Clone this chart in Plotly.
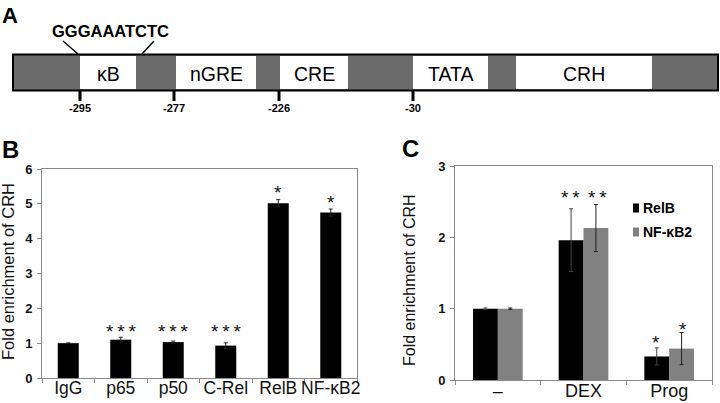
import plotly.graph_objects as go

# ---------------- data ----------------
# Panel B
b_categories = ["IgG", "p65", "p50", "C-Rel", "RelB", "NF-κB2"]
b_values = [1.0, 1.10, 1.03, 0.93, 5.02, 4.75]
b_errors = [0.01, 0.07, 0.03, 0.08, 0.10, 0.10]
b_sig = ["", "*\u2009*\u2009*", "*\u2009*\u2009*", "*\u2009*\u2009*", "*", "*"]
b_sig_y = [None, 1.34, 1.34, 1.34, 5.33, 5.04]

# Panel C
c_categories = ["–", "DEX", "Prog"]
c_relb = [1.0, 1.96, 0.33]
c_relb_err = [0.01, 0.44, 0.12]
c_nfkb2 = [1.0, 2.13, 0.44]
c_nfkb2_err = [0.01, 0.33, 0.225]
c_sig_relb = ["", "*\u2009*", "*"]
c_sig_relb_y = [None, 2.56, 0.53]
c_sig_nfkb2 = ["", "*\u2009*", "*"]
c_sig_nfkb2_y = [None, 2.56, 0.71]
c_series_names = ["RelB", "NF-κB2"]

# Panel A (promoter schematic)
promoter_elements = ["κB", "nGRE", "CRE", "TATA", "CRH"]
promoter_positions = ["-295", "-277", "-226", "-30"]
kb_sequence = "GGGAAATCTC"

# ---------------- layout helpers (pixel geometry) ----------------
W, H = 720, 403
FONT = "Liberation Sans, Arial, Helvetica, sans-serif"


def px(x):
    return x / W


def py(y):
    return 1 - y / H


# schematic geometry (pixels)
bar_x0, bar_x1, bar_y0, bar_y1 = 13, 718, 54.5, 90.5
element_spans = [(80, 136), (176, 256), (280, 348), (413, 488), (516, 652)]
position_marks_x = [80, 174, 279, 413]

BLACK = "#000000"
GREY = "#818181"
AXIS = "#8a8a8a"
STAR_SIZE = 19

fig = go.Figure()

# Panel B bars
fig.add_trace(go.Bar(
    x=b_categories, y=b_values,
    error_y=dict(type="data", array=b_errors, color="#222222", thickness=1, width=2),
    marker=dict(color=BLACK, line=dict(width=0)),
    width=0.4, offset=-0.2,
    xaxis="x", yaxis="y", showlegend=False,
))

# Panel C bars
fig.add_trace(go.Bar(
    x=c_categories, y=c_relb, name=c_series_names[0],
    error_y=dict(type="data", array=c_relb_err, color="#444444", thickness=1, width=2),
    marker=dict(color=BLACK, line=dict(width=0)),
    width=0.29, offset=-0.29,
    xaxis="x2", yaxis="y2", showlegend=False,
))
fig.add_trace(go.Bar(
    x=c_categories, y=c_nfkb2, name=c_series_names[1],
    error_y=dict(type="data", array=c_nfkb2_err, color="#222222", thickness=1, width=2),
    marker=dict(color=GREY, line=dict(width=0)),
    width=0.29, offset=0.0,
    xaxis="x2", yaxis="y2", showlegend=False,
))

annotations = []
shapes = []


def ann(**kw):
    kw.setdefault("showarrow", False)
    kw.setdefault("xanchor", "center")
    kw.setdefault("yanchor", "middle")
    annotations.append(kw)


# significance marks B
for cat, s, yv in zip(b_categories, b_sig, b_sig_y):
    if s:
        ann(x=cat, y=yv, xref="x", yref="y", text=s,
            font=dict(family=FONT, size=STAR_SIZE, color="#111"))
# significance marks C
for cat, s, yv in zip(c_categories, c_sig_relb, c_sig_relb_y):
    if s:
        ann(x=cat, y=yv, xref="x2", yref="y2", text=s, xshift=-13.5,
            font=dict(family=FONT, size=STAR_SIZE, color="#111"))
for cat, s, yv in zip(c_categories, c_sig_nfkb2, c_sig_nfkb2_y):
    if s:
        ann(x=cat, y=yv, xref="x2", yref="y2", text=s, xshift=13.5,
            font=dict(family=FONT, size=STAR_SIZE, color="#111"))

# y titles
ann(x=px(8), y=py(272), xref="paper", yref="paper", text="Fold enrichment of CRH",
    textangle=-90, font=dict(family=FONT, size=16.5, color="#111"))
ann(x=px(409), y=py(280), xref="paper", yref="paper", text="Fold enrichment of CRH",
    textangle=-90, font=dict(family=FONT, size=16, color="#111"))

# panel letters
for letter, (lx, ly), sz in [("A", (10, 15), 22), ("B", (10, 149), 24), ("C", (410, 148), 24)]:
    ann(x=px(lx), y=py(ly), xref="paper", yref="paper", text=letter,
        font=dict(family=FONT, size=sz, color="#000", weight="bold"))

# legend for C
legend_rows = [(c_series_names[0], BLACK, 208), (c_series_names[1], GREY, 232)]
for name, col, ly in legend_rows:
    shapes.append(dict(type="rect", xref="paper", yref="paper", x0=px(633), x1=px(639),
                       y0=py(ly + 4.5), y1=py(ly - 4.5), fillcolor=col, line=dict(width=0)))
    ann(x=px(641), y=py(ly), xref="paper", yref="paper", text=name, xanchor="left",
        font=dict(family=FONT, size=14, color="#000", weight="bold"))

# ---------------- Panel A schematic ----------------
shapes.append(dict(type="rect", xref="paper", yref="paper", x0=px(bar_x0), x1=px(bar_x1),
                   y0=py(bar_y1), y1=py(bar_y0), fillcolor="#6b6b6b", line=dict(color="#000", width=2)))
for name, (x0, x1) in zip(promoter_elements, element_spans):
    shapes.append(dict(type="rect", xref="paper", yref="paper", x0=px(x0), x1=px(x1),
                       y0=py(89), y1=py(56), fillcolor="#ffffff", line=dict(width=0)))
    ann(x=px((x0 + x1) / 2), y=py(74), xref="paper", yref="paper", text=name,
        font=dict(family=FONT, size=19.5, color="#000"))
for lab, mx in zip(promoter_positions, position_marks_x):
    shapes.append(dict(type="line", xref="paper", yref="paper", x0=px(mx), x1=px(mx),
                       y0=py(91), y1=py(101), line=dict(color="#000", width=3)))
    ann(x=px(mx), y=py(108), xref="paper", yref="paper", text=lab,
        font=dict(family=FONT, size=11, color="#000", weight="bold"))
# sequence callout
shapes.append(dict(type="line", xref="paper", yref="paper", x0=px(63), y0=py(41), x1=px(78), y1=py(54),
                   line=dict(color="#000", width=1.5)))
shapes.append(dict(type="line", xref="paper", yref="paper", x0=px(154), y0=py(41), x1=px(142), y1=py(54),
                   line=dict(color="#000", width=1.5)))
ann(x=px(110), y=py(31), xref="paper", yref="paper", text=kb_sequence,
    font=dict(family=FONT, size=16.5, color="#000", weight="bold"))

axis_common = dict(showline=True, mirror=True, linecolor=AXIS, linewidth=1, showgrid=False,
                   zeroline=False, ticks="outside", ticklen=4, tickcolor=AXIS, automargin=False)

fig.update_layout(
    width=W, height=H,
    margin=dict(l=0, r=0, t=0, b=0, autoexpand=False),
    paper_bgcolor="white", plot_bgcolor="white",
    barmode="group",
    showlegend=False,
    xaxis=dict(domain=[px(42), px(357)], anchor="y", type="category", tickson="boundaries",
               tickangle=0, ticklabelstandoff=-6,
               tickfont=dict(family=FONT, size=17.5, color="#111"), **axis_common),
    yaxis=dict(domain=[py(378), py(169)], anchor="x", range=[0, 6], dtick=1, ticklabelstandoff=2,
               tickfont=dict(family=FONT, size=13, color="#111", weight="bold"), **axis_common),
    xaxis2=dict(domain=[px(455), px(712)], anchor="y2", type="category", tickson="boundaries",
                tickangle=0, ticklabelstandoff=-6,
                tickfont=dict(family=FONT, size=18, color="#111"), **axis_common),
    yaxis2=dict(domain=[py(380), py(166)], anchor="x2", range=[0, 3], dtick=1, ticklabelstandoff=2,
                tickfont=dict(family=FONT, size=13, color="#111", weight="bold"), **axis_common),
    shapes=shapes,
    annotations=annotations,
)

fig.write_html(
    "out.html",
    config={"displayModeBar": False},
    post_script="document.body.style.margin='0';document.body.style.overflow='hidden';",
)
